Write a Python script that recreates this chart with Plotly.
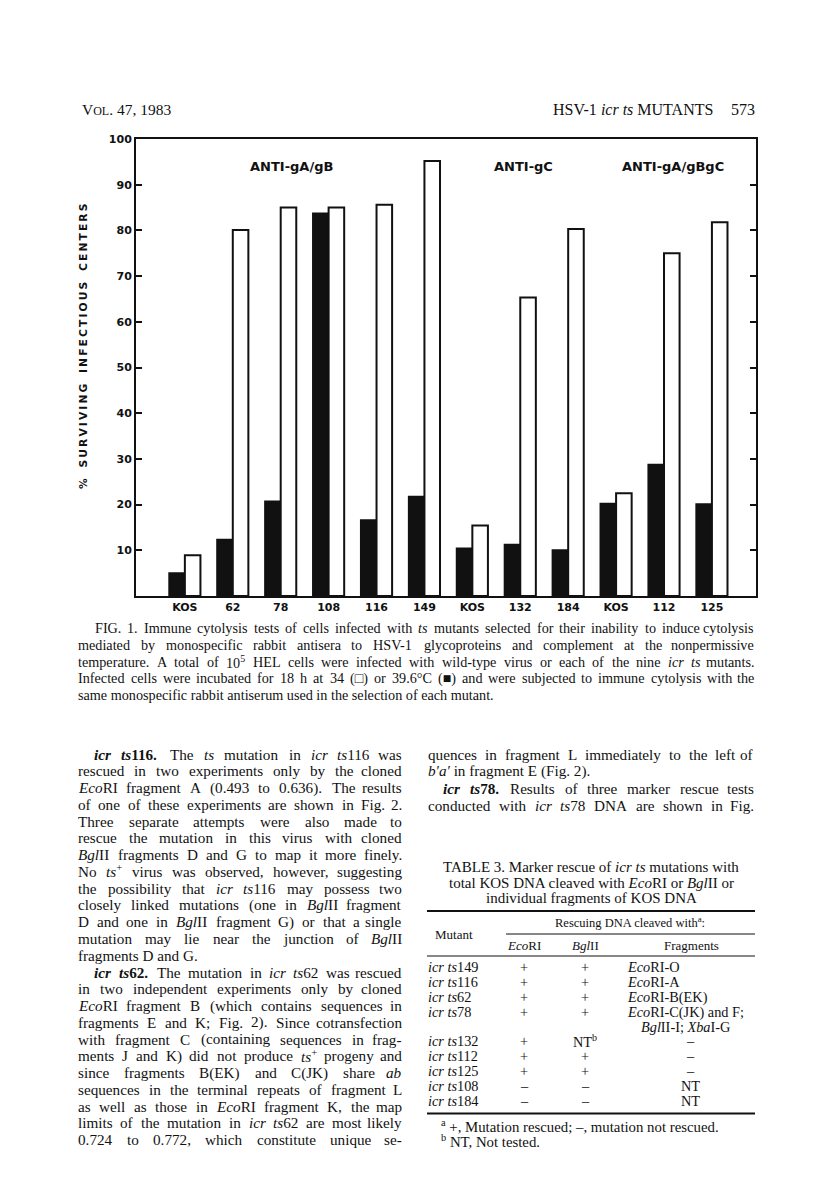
import plotly.graph_objects as go

# Fig. 1 data: % surviving infectious centers
strains = ['KOS', '62', '78', '108', '116', '149', 'KOS', '132', '184', 'KOS', '112', '125']
pct_39 = [5.0, 12.3, 20.7, 83.7, 16.6, 21.7, 10.4, 11.2, 10.0, 20.2, 28.7, 20.1]   # 39.6 C (filled)
pct_34 = [8.9, 80.1, 85.0, 85.0, 85.6, 95.2, 15.4, 65.3, 80.3, 22.5, 75.0, 81.8]   # 34 C (open)
y_ticks = [10, 20, 30, 40, 50, 60, 70, 80, 90, 100]
panel_labels = ['ANTI-gA/gB', 'ANTI-gC', 'ANTI-gA/gBgC']

caption = [
    "FIG. 1. Immune cytolysis tests of cells infected with <i>ts</i> mutants selected for their inability to induce cytolysis",
    "mediated by monospecific rabbit antisera to HSV-1 glycoproteins and complement at the nonpermissive",
    "temperature. A total of 10<sup>5</sup> HEL cells were infected with wild-type virus or each of the nine <i>icr ts</i> mutants.",
    "Infected cells were incubated for 18 h at 34 (\u25a1) or 39.6\u00b0C (\u25a0) and were subjected to immune cytolysis with the",
    "same monospecific rabbit antiserum used in the selection of each mutant.",
]

left_col = [
    "<b><i>icr ts</i>116.</b> The <i>ts</i> mutation in <i>icr ts</i>116 was",
    "rescued in two experiments only by the cloned",
    "<i>Eco</i>RI fragment A (0.493 to 0.636). The results",
    "of one of these experiments are shown in Fig. 2.",
    "Three separate attempts were also made to",
    "rescue the mutation in this virus with cloned",
    "<i>Bgl</i>II fragments D and G to map it more finely.",
    "No <i>ts</i><sup>+</sup> virus was observed, however, suggesting",
    "the possibility that <i>icr ts</i>116 may possess two",
    "closely linked mutations (one in <i>Bgl</i>II fragment",
    "D and one in <i>Bgl</i>II fragment G) or that a single",
    "mutation may lie near the junction of <i>Bgl</i>II",
    "fragments D and G.",
    "<b><i>icr ts</i>62.</b> The mutation in <i>icr ts</i>62 was rescued",
    "in two independent experiments only by cloned",
    "<i>Eco</i>RI fragment B (which contains sequences in",
    "fragments E and K; Fig. 2). Since cotransfection",
    "with fragment C (containing sequences in frag-",
    "ments J and K) did not produce <i>ts</i><sup>+</sup> progeny and",
    "since fragments B(EK) and C(JK) share <i>ab</i>",
    "sequences in the terminal repeats of fragment L",
    "as well as those in <i>Eco</i>RI fragment K, the map",
    "limits of the mutation in <i>icr ts</i>62 are most likely",
    "0.724 to 0.772, which constitute unique se-",
]
left_indent = [0, 13]
left_ragged = [12]

right_col = [
    "quences in fragment L immediately to the left of",
    "<i>b\u2032a\u2032</i> in fragment E (Fig. 2).",
    "<b><i>icr ts</i>78.</b> Results of three marker rescue tests",
    "conducted with <i>icr ts</i>78 DNA are shown in Fig.",
]
right_indent = [2]
right_ragged = [1]

table_title = [
    "TABLE 3. Marker rescue of <i>icr ts</i> mutations with",
    "total KOS DNA cleaved with <i>Eco</i>RI or <i>Bgl</i>II or",
    "individual fragments of KOS DNA",
]
tbl_mutant = ["149", "116", "62", "78", "", "132", "112", "125", "108", "184"]
tbl_ecori = ["+", "+", "+", "+", "", "+", "+", "+", "\u2013", "\u2013"]
tbl_bglii = ["+", "+", "+", "+", "", "NT<sup>b</sup>", "+", "+", "\u2013", "\u2013"]
tbl_frag = ["<i>Eco</i>RI-O", "<i>Eco</i>RI-A", "<i>Eco</i>RI-B(EK)",
            "<i>Eco</i>RI-C(JK) and F;", "+<i>Bgl</i>II-I; <i>Xba</i>I-G",
            "\u2013", "\u2013", "\u2013", "NT", "NT"]
footnotes = ["<sup>a</sup> +, Mutation rescued; \u2013, mutation not rescued.",
             "<sup>b</sup> NT, Not tested."]

# page geometry (pixels) -> paper coordinates
L, R, T, B = 128, 748, 131, 588
W, H = 816, 1201


def px(x):
    return (x - L) / (R - L)


def py(y):
    return (B - y) / (B - T)


SERIF = "Liberation Serif"
SANS_B = "DejaVu Sans"
ink = "#111111"

# approximate Times advance widths (1/1000 em) used to justify lines
TW = dict(zip("abcdefghijklmnopqrstuvwxyz",
              [444, 500, 444, 500, 444, 333, 500, 500, 278, 278, 500, 278, 778,
               500, 500, 500, 500, 333, 389, 278, 500, 500, 722, 500, 500, 444]))
TW.update(zip("ABCDEFGHIJKLMNOPQRSTUVWXYZ",
              [722, 667, 667, 722, 611, 556, 722, 722, 333, 389, 722, 611, 889,
               722, 722, 556, 722, 667, 556, 611, 722, 722, 944, 722, 722, 611]))
TW.update({c: 500 for c in "0123456789"})
TW.update({' ': 250, '.': 250, ',': 250, '(': 333, ')': 333, '-': 333, ';': 278,
           ':': 278, '+': 564, '\u2032': 275, '\u00b0': 400, '\u25a1': 600,
           '\u25a0': 600, '\u2013': 500})

xs = list(range(len(strains)))

fig = go.Figure()
fig.add_trace(go.Bar(x=xs, y=pct_39, name='39.6\u00b0C',
                     marker=dict(color=ink, line=dict(color=ink, width=2))))
fig.add_trace(go.Bar(x=xs, y=pct_34, name='34\u00b0C',
                     marker=dict(color='white', line=dict(color=ink, width=2))))

ann = []


def text(x, y, s, size=15, anchor='left', family=SERIF, **kw):
    ann.append(dict(x=px(x), y=py(y), xref='paper', yref='paper', text=s,
                    showarrow=False, xanchor=anchor, yanchor='middle', borderpad=0,
                    font=dict(family=family, size=size, color=ink), **kw))


def parse(s):
    chars, stack, i = [], [], 0
    while i < len(s):
        if s[i] == '<':
            j = s.index('>', i)
            tag = s[i + 1:j]
            if tag.startswith('/'):
                stack.remove(tag[1:])
            else:
                stack.append(tag)
            i = j + 1
        else:
            chars.append((s[i], tuple(stack)))
            i += 1
    return chars


def render(word):
    out, cur, buf = '', None, ''
    for ch, tags in word + [(None, None)]:
        if tags != cur:
            if buf:
                out += ''.join('<%s>' % t for t in cur) + buf + ''.join('</%s>' % t for t in reversed(cur))
            cur, buf = tags, ''
        if ch is not None:
            buf += ch
    return out


def width(word, size):
    w = 0
    for ch, tags in word:
        f = 0.7 if 'sup' in tags else 1.0
        f *= 1.05 if 'b' in tags else 1.0
        w += TW.get(ch, 500) * f
    return w * size / 1000


def line(x0, x1, y, s, size, justify=True):
    # justified line: words spread so the last word ends at x1
    if not justify:
        text(x0, y, s, size=size)
        return
    words, cur = [], []
    for c in parse(s):
        if c[0] == ' ':
            words.append(cur)
            cur = []
        else:
            cur.append(c)
    words.append(cur)
    ws = [width(w, size) for w in words]
    gap = (x1 - x0 - sum(ws)) / (len(words) - 1)
    gap = max(gap, 0.2 * size)
    pos = x0
    for k, w in enumerate(words):
        if k == len(words) - 1:
            text(x1, y, render(w), size=size, anchor='right')
        else:
            text(pos, y, render(w), size=size)
        pos += ws[k] + gap


# running head
text(73, 101, "V<span style='font-size:12px'>OL</span>. 47, 1983", size=15.5)
text(706, 101, "HSV-1 <i>icr ts</i> MUTANTS", size=16, anchor='right')
text(748, 101, "573", size=16, anchor='right')

# panel labels
for lbl, xx in zip(panel_labels, [283, 515, 665]):
    text(xx, 158, "<b>" + lbl + "</b>", size=13, anchor='center', family=SANS_B)

# y axis title (letter spaced)
ytitle = "%\u2003" + "\u2003".join("\u2009".join(w) for w in ["SURVIVING", "INFECTIOUS", "CENTERS"])
text(75, 339, "<b>" + ytitle + "</b>", size=10.7, anchor='center', family=SANS_B, textangle=-90)

# caption
for i, s in enumerate(caption):
    line(86 if i == 0 else 69, 747, 620 + i * 16.8, s, 14.2, justify=i < len(caption) - 1)

# body text columns
BODY = 15.2
for i, s in enumerate(left_col):
    line(85 if i in left_indent else 69, 395, 746 + i * 16.77, s, BODY,
         justify=i not in left_ragged)
for i, s in enumerate(right_col):
    line(434 if i in right_indent else 419, 747, 746 + i * 17.2, s, BODY,
         justify=i not in right_ragged)

# table 3
for i, s in enumerate(table_title):
    text(583, 859 + i * 15.6, s, size=15, anchor='center')
text(622, 914, "Rescuing DNA cleaved with<sup>a</sup>:", size=12.5, anchor='center')
text(446, 926, "Mutant", size=13, anchor='center')
text(516, 937, "<i>Eco</i>RI", size=13, anchor='center')
text(577, 937, "<i>Bgl</i>II", size=13, anchor='center')
text(683, 937, "Fragments", size=13, anchor='center')
row_y = [959, 974, 989, 1004, 1018.5, 1033.3, 1048.3, 1063.3, 1078.3, 1093.3]
for i, yy in enumerate(row_y):
    if tbl_mutant[i]:
        text(419, yy, "<i>icr ts</i>" + tbl_mutant[i], size=14.3)
    if tbl_ecori[i]:
        text(516, yy, tbl_ecori[i], size=14.3, anchor='center')
    if tbl_bglii[i]:
        text(577, yy, tbl_bglii[i], size=14.3, anchor='center')
    f = tbl_frag[i]
    if f in ("\u2013", "NT"):
        text(682, yy, f, size=14.3, anchor='center')
    elif f.startswith('+'):
        text(632, yy, f[1:], size=14.3)
    else:
        text(618, yy, f, size=14.3)
for i, s in enumerate(footnotes):
    text(432, 1118 + i * 15, s, size=14.8)

shapes = []
for (x0, x1, yy, w) in [(419, 747, 903, 1.8), (498, 747, 926, 1.0),
                        (419, 747, 948, 1.0), (419, 747, 1105.5, 1.8)]:
    shapes.append(dict(type='line', xref='paper', yref='paper',
                       x0=px(x0), x1=px(x1), y0=py(yy), y1=py(yy),
                       line=dict(color=ink, width=w)))

fig.update_layout(
    width=W, height=H,
    margin=dict(l=L, r=W - R, t=T, b=H - B),
    paper_bgcolor='white', plot_bgcolor='white',
    barmode='group', bargap=0.35, bargroupgap=0,
    showlegend=False,
    annotations=ann, shapes=shapes,
    xaxis=dict(range=[-1.02, 11.92], tickvals=xs, ticktext=['<b>%s</b>' % s for s in strains],
               tickfont=dict(family=SANS_B, size=11, color=ink),
               showline=True, linecolor=ink, linewidth=2, mirror=True,
               ticks='', showgrid=False, zeroline=False),
    yaxis=dict(range=[0, 100], tickvals=y_ticks, ticktext=['<b>%d</b>' % v for v in y_ticks],
               tickfont=dict(family=SANS_B, size=11, color=ink),
               showline=True, linecolor=ink, linewidth=2, mirror='ticks',
               ticks='inside', ticklen=6, tickwidth=2, tickcolor=ink,
               showgrid=False, zeroline=False),
)

fig.write_html("out.html")
